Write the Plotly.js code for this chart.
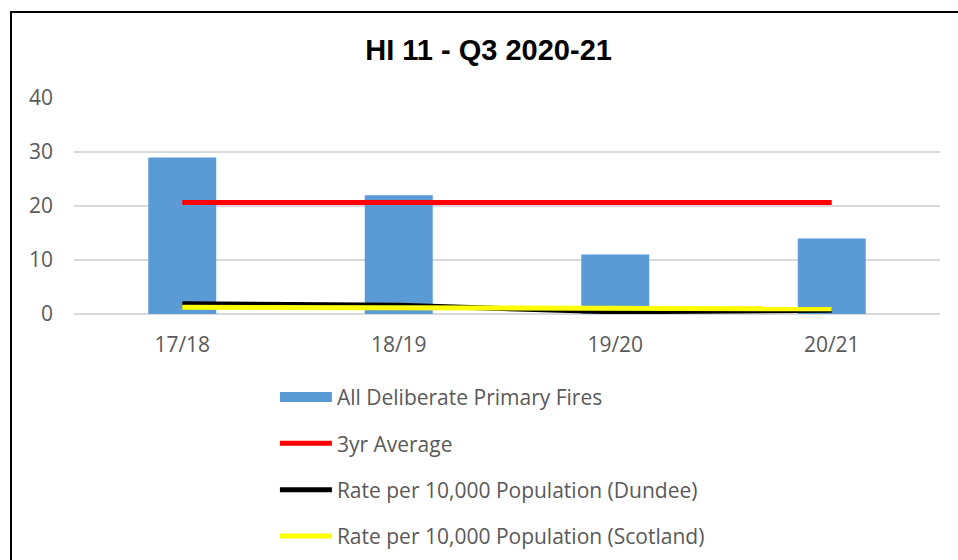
<!DOCTYPE html>
<html>
<head>
<meta charset="utf-8">
<script src="https://cdn.plot.ly/plotly-3.0.1.min.js"></script>
<style>
  html, body { margin: 0; padding: 0; background: #ffffff; }
  #wrap { position: relative; width: 958px; height: 560px; overflow: hidden; }
  #chart { width: 958px; height: 560px; }
  #frame { position: absolute; left: 10px; top: 11px; width: 1000px; height: 600px;
           border: 2px solid #000; box-sizing: border-box; pointer-events: none; }
</style>
</head>
<body>
<div id="wrap">
  <div id="chart"></div>
  <div id="frame"></div>
</div>
<script>
const categories = ['17/18', '18/19', '19/20', '20/21'];
const firesName = 'All Deliberate Primary Fires';
const fires = [29, 22, 11, 14];
const avgName = '3yr Average';
const average3yr = [20.67, 20.67, 20.67, 20.67];
const dundeeName = 'Rate per 10,000 Population (Dundee)';
const dundee = [1.9, 1.6, 0.4, 0.7];
const scotlandName = 'Rate per 10,000 Population (Scotland)';
const scotland = [1.25, 1.2, 1.2, 0.95];
const yTicks = [0, 10, 20, 30, 40];

const font = '"Open Sans", Lato, sans-serif';
const grey = '#595959';
const barColor = '#5b9bd5';

const traces = [
  { type: 'bar', x: categories, y: fires, name: firesName, showlegend: false,
    marker: { color: barColor } },
  // legend entry for the bars, drawn as a wide block like the original
  { type: 'scatter', mode: 'lines', x: [null], y: [null], name: firesName, legendgroup: 'a',
    line: { color: barColor, width: 13 }, hoverinfo: 'skip' },
  { type: 'scatter', mode: 'lines', x: categories, y: average3yr, name: avgName, legendgroup: 'b',
    line: { color: '#ff0000', width: 5 } },
  { type: 'scatter', mode: 'lines', x: categories, y: dundee, name: dundeeName, legendgroup: 'c',
    line: { color: '#000000', width: 5 } },
  { type: 'scatter', mode: 'lines', x: categories, y: scotland, name: scotlandName, legendgroup: 'd',
    line: { color: '#ffff00', width: 5 } }
];

const layout = {
  width: 958, height: 560,
  margin: { l: 74, r: 18, t: 98, b: 246, autoexpand: false },
  paper_bgcolor: '#ffffff', plot_bgcolor: '#ffffff',
  title: { text: '<b>HI 11 - Q3 2020-21</b>', x: 0.51, xref: 'container', xanchor: 'center',
           y: 0.911, yref: 'container', yanchor: 'middle',
           font: { family: '"Liberation Sans", Arial, sans-serif', size: 29, color: '#000000' } },
  bargap: 0.686,
  xaxis: { type: 'category', tickfont: { family: font, size: 21, color: grey },
           showgrid: false, zeroline: false, showline: false, ticks: '', ticklabelstandoff: 16 },
  yaxis: { range: [0, 40], tickvals: yTicks, ticktext: yTicks.map(String),
           tickfont: { family: font, size: 21, color: grey },
           gridcolor: '#d9d9d9', gridwidth: 1.5, zeroline: true, zerolinecolor: '#d9d9d9', zerolinewidth: 2,
           showline: false, ticks: '', ticklabelstandoff: 20, fixedrange: true },
  showlegend: true,
  legend: { orientation: 'v', x: 0.232, xanchor: 'left', y: 0.327, yref: 'container', yanchor: 'top',
            font: { family: font, size: 21, color: grey }, itemwidth: 52,
            tracegroupgap: 16, traceorder: 'grouped', bgcolor: 'rgba(0,0,0,0)' }
};

Plotly.newPlot('chart', traces, layout, { displayModeBar: false, staticPlot: true });
</script>
</body>
</html>
